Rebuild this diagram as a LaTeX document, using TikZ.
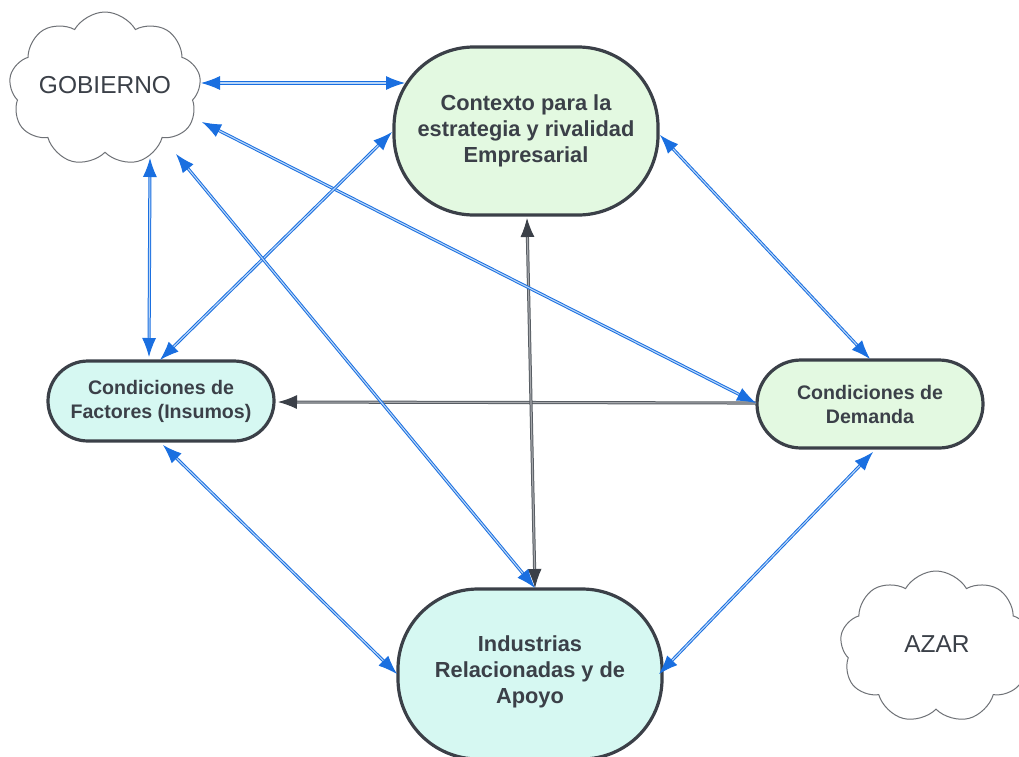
\documentclass[tikz,border=0pt]{standalone}
\usepackage{fontspec}
\setmainfont{Liberation Sans}
\usetikzlibrary{arrows.meta,shapes.symbols,calc}
\definecolor{ink}{HTML}{3B4048}
\definecolor{linkblue}{HTML}{1A6FE0}
\definecolor{linkcore}{HTML}{B9D6F8}
\definecolor{greenfill}{HTML}{E3F9E1}
\definecolor{cyanfill}{HTML}{D6F8F2}
\definecolor{cloudline}{HTML}{6E7176}
\tikzset{
  hd/.tip={Latex[length=19pt,width=14pt]},
  darkhd/.tip={Latex[length=19pt,width=14pt,color=ink]},
  factor/.style={draw=ink, line width=3.2pt, text=ink, font=\bfseries, align=center, inner sep=0pt},
  bigfactor/.style={factor, minimum width=264pt, minimum height=168pt, rounded corners=80pt, font=\bfseries\fontsize{21.8}{26}\selectfont},
  smallfactor/.style={factor, minimum width=226pt, rounded corners=40pt, font=\bfseries\fontsize{19.6}{24}\selectfont},
  puff/.style={cloud, cloud puffs=9, cloud puff arc=120, aspect=1.25, draw=cloudline, line width=1pt, fill=white, inner sep=0pt},
  cloudtext/.style={text=ink, font=\fontsize{24.5}{28}\selectfont},
  link/.style={draw=linkblue, line width=1pt, double=linkcore, double distance=1.1pt, {hd}-{hd}},
  graylink/.style={draw=ink!85, line width=1pt, double=ink!45, double distance=1.1pt}
}
\begin{document}
\begin{tikzpicture}[x=1pt,y=-1pt]
\useasboundingbox (0,0) rectangle (1019,756);
% the four corners of the diamond
\node[bigfactor, fill=greenfill] (ctx) at (526,131) {Contexto para la\\estrategia y rivalidad\\Empresarial};
\node[bigfactor, fill=cyanfill, minimum height=170pt] (ind) at (530,674) {};
\node[bigfactor, draw=none, minimum size=0pt] (indtxt) at (530,672) {Industrias\\Relacionadas y de\\Apoyo};
\node[smallfactor, fill=cyanfill, minimum height=80pt] (fac) at (161,401) {Condiciones de\\Factores (Insumos)};
\node[smallfactor, fill=greenfill, minimum height=88pt, rounded corners=44pt] (dem) at (870,404) {Condiciones de\\Demanda};
% outside influences
\node[puff, minimum width=192pt, minimum height=154pt] (gob) at (105,89) {};
\node[cloudtext] (gobtxt) at (105,85) {GOBIERNO};
\node[puff, minimum width=192pt, minimum height=152pt] (azar) at (936,647) {};
\node[cloudtext] (azartxt) at (937,644) {AZAR};
% links
\draw[graylink, -{darkhd}] ($(dem)+(-114,-1)$) -- ($(fac)+(117,1)$);
\draw[graylink, {darkhd}-{darkhd}] ($(ctx)+(1,87)$) -- ($(ind)+(5,-86)$);
\draw[link] ($(gob)+(96,-6)$) -- ($(ctx)+(-121,-48)$);
\draw[link] ($(gob)+(97,33)$) -- ($(dem)+(-114,-1)$);
\draw[link] ($(ctx)+(-134,1)$) -- ($(fac)+(-1,-41)$);
\draw[link] ($(gob)+(45,69)$) -- ($(fac)+(-12,-44)$);
\draw[link] ($(gob)+(71,65)$) -- ($(ind)+(5,-86)$);
\draw[link] ($(ctx)+(134,4)$) -- ($(dem)+(0,-45)$);
\draw[link] ($(fac)+(2,44)$) -- ($(ind)+(-133,0)$);
\draw[link] ($(dem)+(3,48)$) -- ($(ind)+(129,0)$);
\end{tikzpicture}
\end{document}
